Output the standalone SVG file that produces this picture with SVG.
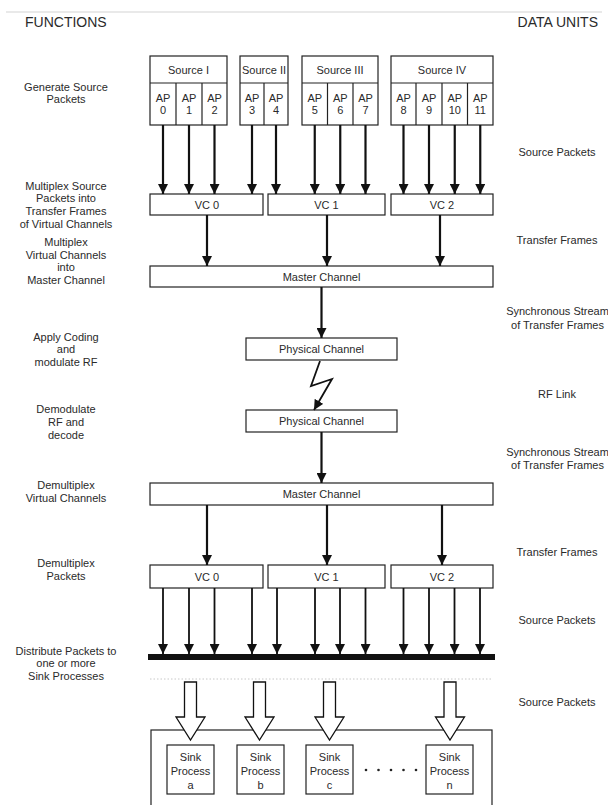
<svg xmlns="http://www.w3.org/2000/svg" width="608" height="805" viewBox="0 0 608 805">
<defs>
<marker id="ah" viewBox="0 0 10 10" refX="10" refY="5" markerWidth="10" markerHeight="10" markerUnits="userSpaceOnUse" orient="auto">
<path d="M0,0 L10,5 L0,10 Z" fill="#111"/>
</marker>
<style>
text{font-family:"Liberation Sans",Arial,sans-serif;fill:#2a2a2a;}
.t{font-size:11px;text-anchor:middle;}
.h{font-size:14px;}
.box{fill:#fff;stroke:#222;stroke-width:1.2;}
.ln{stroke:#111;stroke-width:2.2;fill:none;marker-end:url(#ah);}
.ln2{stroke:#111;stroke-width:1.8;fill:none;marker-end:url(#ah);}
.hol{fill:#fff;stroke:#111;stroke-width:1.3;stroke-linejoin:miter;}
</style>
</defs>
<rect width="608" height="805" fill="#fff"/>
<line x1="6" y1="12" x2="602" y2="12" stroke="#d4d4d4" stroke-width="1.2"/>
<text class="h" x="25" y="27">FUNCTIONS</text>
<text class="h" x="598" y="27" text-anchor="end">DATA UNITS</text>

<g id="labels-left">
<text class="t" x="66" y="91">Generate Source</text>
<text class="t" x="66" y="103">Packets</text>
<text class="t" x="66" y="190">Multiplex Source</text>
<text class="t" x="66" y="202">Packets  into</text>
<text class="t" x="66" y="215">Transfer Frames</text>
<text class="t" x="66" y="228">of Virtual Channels</text>
<text class="t" x="66" y="246">Multiplex</text>
<text class="t" x="66" y="259">Virtual Channels</text>
<text class="t" x="66" y="271">into</text>
<text class="t" x="66" y="284">Master Channel</text>
<text class="t" x="66" y="341">Apply Coding</text>
<text class="t" x="66" y="353">and</text>
<text class="t" x="66" y="366">modulate RF</text>
<text class="t" x="66" y="413">Demodulate</text>
<text class="t" x="66" y="426">RF and</text>
<text class="t" x="66" y="439">decode</text>
<text class="t" x="66" y="489">Demultiplex</text>
<text class="t" x="66" y="502">Virtual Channels</text>
<text class="t" x="66" y="567">Demultiplex</text>
<text class="t" x="66" y="580">Packets</text>
<text class="t" x="66" y="655">Distribute Packets to</text>
<text class="t" x="66" y="667">one or more</text>
<text class="t" x="66" y="680">Sink Processes</text>
</g>

<g id="labels-right">
<text class="t" x="557" y="156">Source Packets</text>
<text class="t" x="557" y="244">Transfer Frames</text>
<text class="t" x="557.5" y="315">Synchronous Stream</text>
<text class="t" x="557.5" y="329">of Transfer Frames</text>
<text class="t" x="557" y="398">RF Link</text>
<text class="t" x="557.5" y="456">Synchronous Stream</text>
<text class="t" x="557.5" y="469">of Transfer Frames</text>
<text class="t" x="557" y="556">Transfer Frames</text>
<text class="t" x="557" y="624">Source Packets</text>
<text class="t" x="557" y="706">Source Packets</text>
</g>

<g id="source-1">
<rect class="box" x="150" y="56" width="77" height="69"/>
<line x1="150" y1="83" x2="227" y2="83" stroke="#222" stroke-width="1.2"/>
<line x1="176" y1="83" x2="176" y2="125" stroke="#222" stroke-width="1.2"/>
<line x1="202" y1="83" x2="202" y2="125" stroke="#222" stroke-width="1.2"/>
<text class="t" x="188.5" y="73.5">Source I</text>
<text class="t" x="163" y="102">AP</text><text class="t" x="163" y="114">0</text>
<text class="t" x="189" y="102">AP</text><text class="t" x="189" y="114">1</text>
<text class="t" x="214.5" y="102">AP</text><text class="t" x="214.5" y="114">2</text>
</g>
<g id="source-2">
<rect class="box" x="240" y="56" width="48" height="69"/>
<line x1="240" y1="83" x2="288" y2="83" stroke="#222" stroke-width="1.2"/>
<line x1="264" y1="83" x2="264" y2="125" stroke="#222" stroke-width="1.2"/>
<text class="t" x="264" y="73.5">Source II</text>
<text class="t" x="252" y="102">AP</text><text class="t" x="252" y="114">3</text>
<text class="t" x="276" y="102">AP</text><text class="t" x="276" y="114">4</text>
</g>
<g id="source-3">
<rect class="box" x="302" y="56" width="76" height="69"/>
<line x1="302" y1="83" x2="378" y2="83" stroke="#222" stroke-width="1.2"/>
<line x1="327.5" y1="83" x2="327.5" y2="125" stroke="#222" stroke-width="1.2"/>
<line x1="353" y1="83" x2="353" y2="125" stroke="#222" stroke-width="1.2"/>
<text class="t" x="340" y="73.5">Source III</text>
<text class="t" x="314.75" y="102">AP</text><text class="t" x="314.75" y="114">5</text>
<text class="t" x="340.25" y="102">AP</text><text class="t" x="340.25" y="114">6</text>
<text class="t" x="365.5" y="102">AP</text><text class="t" x="365.5" y="114">7</text>
</g>
<g id="source-4">
<rect class="box" x="391" y="56" width="102" height="69"/>
<line x1="391" y1="83" x2="493" y2="83" stroke="#222" stroke-width="1.2"/>
<line x1="416" y1="83" x2="416" y2="125" stroke="#222" stroke-width="1.2"/>
<line x1="442" y1="83" x2="442" y2="125" stroke="#222" stroke-width="1.2"/>
<line x1="467.5" y1="83" x2="467.5" y2="125" stroke="#222" stroke-width="1.2"/>
<text class="t" x="442" y="73.5">Source IV</text>
<text class="t" x="403.5" y="102">AP</text><text class="t" x="403.5" y="114">8</text>
<text class="t" x="429" y="102">AP</text><text class="t" x="429" y="114">9</text>
<text class="t" x="454.75" y="102">AP</text><text class="t" x="454.75" y="114">10</text>
<text class="t" x="480.25" y="102">AP</text><text class="t" x="480.25" y="114">11</text>
</g>

<g id="vc-tx-0"><rect class="box" x="150" y="194" width="113" height="21"/><text class="t" x="207" y="209">VC 0</text></g>
<g id="vc-tx-1"><rect class="box" x="268" y="194" width="117" height="21"/><text class="t" x="326.5" y="209">VC 1</text></g>
<g id="vc-tx-2"><rect class="box" x="391" y="194" width="102" height="21"/><text class="t" x="442" y="209">VC 2</text></g>
<g id="master-tx"><rect class="box" x="150" y="266" width="343" height="21"/><text class="t" x="321.5" y="281">Master Channel</text></g>
<g id="phys-tx"><rect class="box" x="246" y="338" width="151" height="22"/><text class="t" x="321.5" y="353">Physical Channel</text></g>
<g id="phys-rx"><rect class="box" x="246" y="410" width="151" height="22"/><text class="t" x="321.5" y="425">Physical Channel</text></g>
<g id="master-rx"><rect class="box" x="150" y="483" width="343" height="22"/><text class="t" x="321.5" y="498">Master Channel</text></g>
<g id="vc-rx-0"><rect class="box" x="150" y="565" width="113" height="23"/><text class="t" x="207" y="581">VC 0</text></g>
<g id="vc-rx-1"><rect class="box" x="268" y="565" width="117" height="23"/><text class="t" x="326.5" y="581">VC 1</text></g>
<g id="vc-rx-2"><rect class="box" x="391" y="565" width="102" height="23"/><text class="t" x="442" y="581">VC 2</text></g>

<g id="distribution-bar">
<rect x="148" y="654" width="347" height="6" fill="#111"/>
<line x1="150" y1="679" x2="493" y2="679" stroke="#c8c8c8" stroke-width="1" stroke-dasharray="1.5 2"/>
</g>

<g id="sink-area">
<rect class="box" x="151" y="730" width="341" height="82"/>
</g>
<g id="sink-a"><rect class="box" x="167" y="745" width="47" height="49"/><text class="t" x="190.5" y="761">Sink</text><text class="t" x="190.5" y="775">Process</text><text class="t" x="190.5" y="789">a</text></g>
<g id="sink-b"><rect class="box" x="237" y="745" width="47" height="49"/><text class="t" x="260.5" y="761">Sink</text><text class="t" x="260.5" y="775">Process</text><text class="t" x="260.5" y="789">b</text></g>
<g id="sink-c"><rect class="box" x="306" y="745" width="47" height="49"/><text class="t" x="329.5" y="761">Sink</text><text class="t" x="329.5" y="775">Process</text><text class="t" x="329.5" y="789">c</text></g>
<g id="sink-n"><rect class="box" x="426" y="745" width="47" height="49"/><text class="t" x="449.5" y="761">Sink</text><text class="t" x="449.5" y="775">Process</text><text class="t" x="449.5" y="789">n</text></g>
<g id="ellipsis" fill="#222">
<circle cx="366" cy="770" r="1.3"/><circle cx="378.5" cy="770" r="1.3"/><circle cx="391" cy="770" r="1.3"/><circle cx="403.5" cy="770" r="1.3"/><circle cx="416" cy="770" r="1.3"/>
</g>

<g id="connectors">
<line class="ln" x1="163" y1="125" x2="163" y2="194"/>
<line class="ln" x1="189" y1="125" x2="189" y2="194"/>
<line class="ln" x1="214.5" y1="125" x2="214.5" y2="194"/>
<line class="ln" x1="252" y1="125" x2="252" y2="194"/>
<line class="ln" x1="276" y1="125" x2="276" y2="194"/>
<line class="ln" x1="314.75" y1="125" x2="314.75" y2="194"/>
<line class="ln" x1="340.25" y1="125" x2="340.25" y2="194"/>
<line class="ln" x1="365.5" y1="125" x2="365.5" y2="194"/>
<line class="ln" x1="403.5" y1="125" x2="403.5" y2="194"/>
<line class="ln" x1="429" y1="125" x2="429" y2="194"/>
<line class="ln" x1="454.75" y1="125" x2="454.75" y2="194"/>
<line class="ln" x1="480.25" y1="125" x2="480.25" y2="194"/>
<line class="ln" x1="207" y1="215" x2="207" y2="266"/>
<line class="ln" x1="327" y1="215" x2="327" y2="266"/>
<line class="ln" x1="440" y1="215" x2="440" y2="266"/>
<line class="ln" x1="321.5" y1="287" x2="321.5" y2="338"/>
<polyline class="ln2" points="320,361 311,386 332,379 314,410"/>
<line class="ln" x1="321.5" y1="432" x2="321.5" y2="483"/>
<line class="ln" x1="207" y1="505" x2="207" y2="565"/>
<line class="ln" x1="327" y1="505" x2="327" y2="565"/>
<line class="ln" x1="442" y1="505" x2="442" y2="565"/>
<line class="ln2" x1="163" y1="588" x2="163" y2="654"/>
<line class="ln2" x1="189" y1="588" x2="189" y2="654"/>
<line class="ln2" x1="214.5" y1="588" x2="214.5" y2="654"/>
<line class="ln2" x1="252" y1="588" x2="252" y2="654"/>
<line class="ln2" x1="277" y1="588" x2="277" y2="654"/>
<line class="ln2" x1="315" y1="588" x2="315" y2="654"/>
<line class="ln2" x1="340" y1="588" x2="340" y2="654"/>
<line class="ln2" x1="365.5" y1="588" x2="365.5" y2="654"/>
<line class="ln2" x1="403.5" y1="588" x2="403.5" y2="654"/>
<line class="ln2" x1="429" y1="588" x2="429" y2="654"/>
<line class="ln2" x1="454.5" y1="588" x2="454.5" y2="654"/>
<line class="ln2" x1="480" y1="588" x2="480" y2="654"/>
<path class="hol" d="M184.5,682 H196.5 V717 H205 L190.5,740 L176,717 H184.5 Z"/>
<path class="hol" d="M253.5,682 H265.5 V717 H274 L259.5,740 L245,717 H253.5 Z"/>
<path class="hol" d="M323.5,682 H335.5 V717 H344 L329.5,740 L315,717 H323.5 Z"/>
<path class="hol" d="M444,682 H456 V717 H464.5 L450,740 L435.5,717 H444 Z"/>
</g>
</svg>
